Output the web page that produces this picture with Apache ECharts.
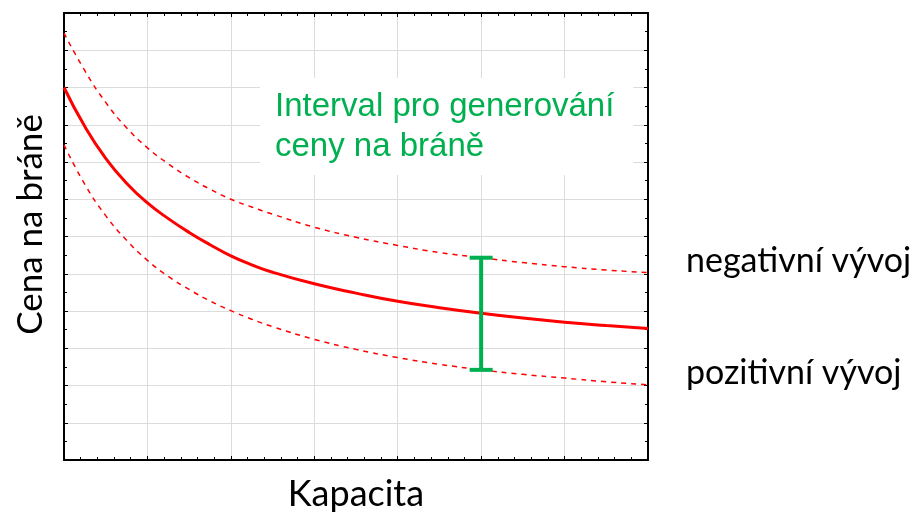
<!DOCTYPE html>
<html>
<head>
<meta charset="utf-8">
<script src="https://cdn.jsdelivr.net/npm/echarts@6/dist/echarts.min.js"></script>
<style>
  html, body { margin: 0; padding: 0; background: #fff; }
  #chart { width: 916px; height: 513px; }
</style>
</head>
<body>
<div id="chart"></div>
<script>
// Cena na bráně vs. kapacita – střední křivka a interval

const kapacita = [0, 0.25, 0.5, 0.75, 1, 1.25, 1.5, 1.75, 2, 2.25, 2.5, 3, 3.5, 4, 4.5, 5, 5.5, 6, 6.5, 7];
const cenaStred = [10, 8.95, 8.1, 7.43, 6.9, 6.48, 6.11, 5.78, 5.48, 5.24, 5.04, 4.73, 4.48, 4.26, 4.09, 3.94, 3.81, 3.7, 3.61, 3.53];
const cenaNegativni = [11.46, 10.45, 9.6, 8.92, 8.38, 7.95, 7.58, 7.27, 7.0, 6.79, 6.6, 6.25, 5.98, 5.76, 5.57, 5.43, 5.3, 5.19, 5.1, 5.03];
const cenaPozitivni = [8.46, 7.4, 6.56, 5.9, 5.36, 4.93, 4.58, 4.27, 4.01, 3.78, 3.58, 3.24, 2.97, 2.75, 2.57, 2.42, 2.3, 2.2, 2.1, 2.02];

// interval na bráně: [kapacita, dolní, horní]
const interval = [[5, 2.42, 5.43]];

const RED = '#ff0000';
const GREEN = '#00b050';
const GRID_C = '#dcdcdc';

const pairs = (ys) => kapacita.map((x, i) => [x, ys[i]]);

const baseAxis = {
  type: 'value',
  axisLine: { show: true, onZero: false, lineStyle: { color: '#000', width: 2 } },
  axisTick: { show: true, inside: true, length: 4, lineStyle: { color: '#000', width: 1 } },
  axisLabel: { show: false },
};

const chart = echarts.init(document.getElementById('chart'));

const option = {
  animation: false,
  backgroundColor: '#fff',
  grid: { left: 64, right: 268, top: 13, bottom: 53, outerBoundsMode: 'none', containLabel: false },
  title: {
    text: 'Interval pro generování\nceny na bráně',
    left: 260,
    top: 78,
    backgroundColor: '#fff',
    padding: [9, 19, 8, 15],
    z: 10,
    textStyle: {
      color: GREEN,
      fontFamily: 'Liberation Sans',
      fontSize: 33,
      fontWeight: 'normal',
      lineHeight: 40,
    },
  },
  xAxis: [
    Object.assign({}, baseAxis, {
      min: 0, max: 7, interval: 1,
      position: 'bottom',
      splitLine: { show: true, lineStyle: { color: GRID_C, width: 1 } },
      minorTick: { show: true, splitNumber: 5, length: 3, lineStyle: { color: '#000' } },
      name: 'Kapacita',
      nameLocation: 'middle',
      nameGap: 16,
      nameTextStyle: { color: '#000', fontFamily: 'Lato', fontSize: 36 },
    }),
    Object.assign({}, baseAxis, {
      min: 0, max: 7, interval: 1,
      position: 'top',
      splitLine: { show: false },
      minorTick: { show: true, splitNumber: 5, length: 3, lineStyle: { color: '#000' } },
    }),
  ],
  yAxis: [
    Object.assign({}, baseAxis, {
      min: 0, max: 12, interval: 1,
      position: 'left',
      splitLine: { show: true, lineStyle: { color: GRID_C, width: 1 } },
      minorTick: { show: true, splitNumber: 2, length: 3, lineStyle: { color: '#000' } },
      name: 'Cena na bráně',
      nameLocation: 'middle',
      nameGap: 16,
      nameTextStyle: { color: '#000', fontFamily: 'Lato', fontSize: 35, padding: [0, 0, 0, 24] },
    }),
    Object.assign({}, baseAxis, {
      min: 0, max: 12, interval: 1,
      position: 'right',
      splitLine: { show: false },
      minorTick: { show: true, splitNumber: 2, length: 3, lineStyle: { color: '#000' } },
    }),
  ],
  series: [
    {
      name: 'střed',
      type: 'line',
      data: pairs(cenaStred),
      smooth: 0.5,
      showSymbol: false,
      lineStyle: { color: RED, width: 3 },
    },
    {
      name: 'negativní vývoj',
      type: 'line',
      data: pairs(cenaNegativni),
      smooth: 0.5,
      showSymbol: false,
      lineStyle: { color: RED, width: 1.5, type: [5, 5] },
      endLabel: {
        show: true,
        formatter: 'negativní vývoj',
        distance: 38,
        offset: [0, -12],
        color: '#000',
        fontFamily: 'Lato',
        fontSize: 34,
      },
    },
    {
      name: 'pozitivní vývoj',
      type: 'line',
      data: pairs(cenaPozitivni),
      smooth: 0.5,
      showSymbol: false,
      lineStyle: { color: RED, width: 1.5, type: [5, 5] },
      endLabel: {
        show: true,
        formatter: 'pozitivní vývoj',
        distance: 38,
        offset: [0, -12],
        color: '#000',
        fontFamily: 'Lato',
        fontSize: 34,
      },
    },
    {
      name: 'interval',
      type: 'custom',
      data: interval,
      encode: { x: 0, y: [1, 2] },
      z: 5,
      renderItem: function (params, api) {
        const lo = api.coord([api.value(0), api.value(1)]);
        const hi = api.coord([api.value(0), api.value(2)]);
        const half = 11.5;
        const st = { stroke: GREEN, lineWidth: 4 };
        return {
          type: 'group',
          children: [
            { type: 'line', shape: { x1: lo[0], y1: lo[1], x2: hi[0], y2: hi[1] }, style: st },
            { type: 'line', shape: { x1: lo[0] - half, y1: lo[1], x2: lo[0] + half, y2: lo[1] }, style: st },
            { type: 'line', shape: { x1: hi[0] - half, y1: hi[1], x2: hi[0] + half, y2: hi[1] }, style: st },
          ],
        };
      },
    },
  ],
};

chart.setOption(option);
</script>
</body>
</html>
